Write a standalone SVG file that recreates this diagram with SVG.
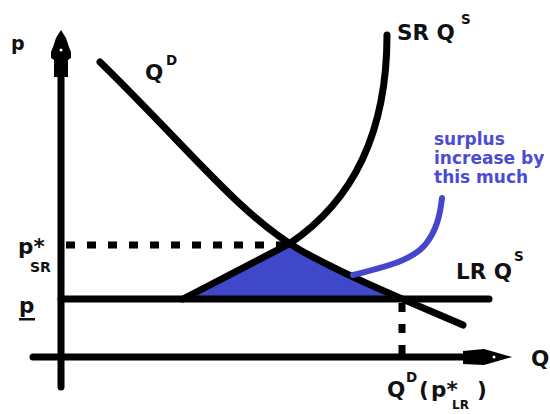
<svg xmlns="http://www.w3.org/2000/svg" width="550" height="414" viewBox="0 0 550 414">
<style>
.t{font-family:"DejaVu Sans","Verdana",sans-serif;font-weight:bold;fill:#111}
.big{font-size:21.5px}
.sm{font-size:13.5px}
.blue{font-family:"DejaVu Sans","Verdana",sans-serif;font-weight:bold;font-size:17px;fill:#4b4bd4}
.ln{fill:none;stroke:#000;stroke-width:7;stroke-linecap:round;stroke-linejoin:round}
.dot{fill:none;stroke:#000;stroke-width:7;stroke-dasharray:9 12}
</style>
<rect width="550" height="414" fill="#fff"/>
<g id="surplus-area">
<polygon points="185,299 289,245 398,299" fill="#3f48c8"/>
</g>
<g id="connectors">
<line class="ln" x1="61" y1="70" x2="61" y2="387"/>
<path d="M61,30 L66,38 L69,47 L71,52 L71,58 L68,60 L68,77 L54,77 L54,60 L51,58 L51,52 L53,47 L56,38 Z" fill="#000"/>
<circle cx="61" cy="50" r="1.5" fill="#fff"/>
<line class="ln" x1="33" y1="357" x2="470" y2="357"/>
<path d="M463,351 L484,349 L498,353 L512,357 L498,361 L484,365 L463,364 Z" fill="#000"/>
<circle cx="494" cy="357" r="1.5" fill="#fff"/>
<line class="ln" x1="61" y1="299" x2="489" y2="299"/>
<line class="dot" x1="66" y1="245" x2="290" y2="245"/>
<line class="dot" x1="402" y1="303" x2="402" y2="362"/>
<path class="ln" d="M100,62 C190,150 240,215 300,250 C350,278 410,302 463,325"/>
<path class="ln" d="M183,299 L289,244 C340,210 387,150 387,35"/>
<path d="M353,275 C380,268 410,262 425,245 C437,230 440,215 442,198" fill="none" stroke="#4646cc" stroke-width="6" stroke-linecap="round"/>
</g>
<g id="label-p"><text class="t" x="11" y="50" font-size="19">p</text></g>
<g id="label-QD">
<text class="t big" x="145" y="80">Q</text>
<text class="t sm" x="166" y="65">D</text>
</g>
<g id="label-SRQS">
<text class="t big" x="397" y="40">SR Q</text>
<text class="t sm" x="461" y="24">S</text>
</g>
<g id="label-pSR">
<text class="t big" x="18" y="254">p*</text>
<text class="t" x="30" y="272" font-size="14">SR</text>
</g>
<g id="label-pbar">
<text class="t big" x="19" y="313">p</text>
<rect x="19" y="318" width="16" height="2.5" fill="#111"/>
</g>
<g id="label-LRQS">
<text class="t big" x="456" y="279">LR Q</text>
<text class="t sm" x="514" y="261">S</text>
</g>
<g id="label-Q"><text class="t big" x="531" y="366">Q</text></g>
<g id="label-QDpLR">
<text class="t big" x="387" y="397">Q</text>
<text class="t sm" x="406" y="382">D</text>
<text class="t big" x="419" y="397">(</text>
<text class="t big" x="431" y="397">p*</text>
<text class="t" x="452" y="409" font-size="12">LR</text>
<text class="t big" x="477" y="397">)</text>
</g>
<g id="label-surplus">
<text class="blue" x="434" y="145">surplus</text>
<text class="blue" x="434" y="164">increase by</text>
<text class="blue" x="434" y="183">this much</text>
</g>
</svg>
